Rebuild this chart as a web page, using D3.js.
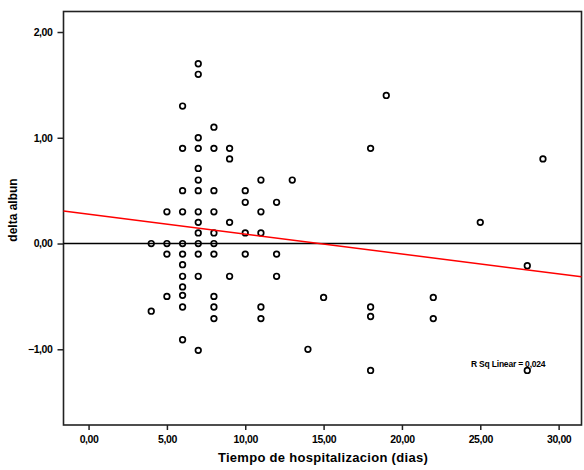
<!DOCTYPE html>
<html>
<head>
<meta charset="utf-8">
<script src="https://cdn.jsdelivr.net/npm/d3@7"></script>
<style>
  html, body { margin: 0; padding: 0; background: #fff; }
  svg { display: block; }
  text { font-family: "Liberation Sans", Arial, sans-serif; font-weight: bold; fill: #000; }
</style>
</head>
<body>
<svg id="chart" width="584" height="470"></svg>
<script>
// Data
const days = [
  4, 4,
  5, 5, 5, 5,
  6, 6, 6, 6, 6, 6, 6, 6, 6, 6, 6, 6,
  7, 7, 7, 7, 7, 7, 7, 7, 7, 7, 7, 7, 7, 7,
  8, 8, 8, 8, 8, 8, 8, 8, 8, 8,
  9, 9, 9, 9,
  10, 10, 10, 10,
  11, 11, 11, 11, 11,
  12, 12, 12,
  13, 14, 15,
  18, 18, 18, 18,
  19,
  22, 22,
  25,
  28, 28,
  29
];
const deltaAlbumin = [
  0.00, -0.64,
  0.30, 0.00, -0.10, -0.50,
  1.30, 0.90, 0.50, 0.30, 0.00, -0.10, -0.20, -0.31, -0.41, -0.49, -0.60, -0.91,
  1.70, 1.60, 1.00, 0.90, 0.71, 0.60, 0.50, 0.30, 0.20, 0.10, 0.00, -0.10, -0.31, -1.01,
  1.10, 0.90, 0.50, 0.30, 0.10, 0.00, -0.10, -0.50, -0.60, -0.71,
  0.90, 0.80, 0.20, -0.31,
  0.50, 0.39, 0.10, -0.10,
  0.60, 0.30, 0.10, -0.60, -0.71,
  0.39, -0.10, -0.31,
  0.60, -1.00, -0.51,
  0.90, -0.60, -0.69, -1.20,
  1.40,
  -0.51, -0.71,
  0.20,
  -0.21, -1.20,
  0.80
];
const xTicks = [0, 5, 10, 15, 20, 25, 30];
const yTicks = [-1, 0, 1, 2];
// Fit line: [intercept, slope]
const fitLine = [0.277, -0.0188];
const rSquared = 0.024;

const fmt = v => d3.format(".2f")(v).replace(".", ",");

const svg = d3.select("#chart");
const pLeft = 63.5, pRight = 581.5, pTop = 11.5, pBottom = 425;

const x = d3.scaleLinear().domain([-1.6, 31.46]).range([pLeft, pRight]);
const y = d3.scaleLinear().domain([-1.716, 2.194]).range([pBottom, pTop]);

// Frame
svg.append("rect")
  .attr("x", pLeft).attr("y", pTop)
  .attr("width", pRight - pLeft).attr("height", pBottom - pTop)
  .attr("fill", "none").attr("stroke", "#222").attr("stroke-width", 1.6);

// X axis
const xAxis = svg.append("g").attr("transform", `translate(0,${pBottom})`)
  .call(d3.axisBottom(x).tickValues(xTicks).tickFormat(fmt).tickSize(5).tickPadding(6));
xAxis.select(".domain").remove();
xAxis.selectAll(".tick line").attr("stroke", "#222").attr("stroke-width", 1.5);
xAxis.selectAll(".tick text").attr("font-size", "10.5px").attr("font-family", "Liberation Sans, Arial, sans-serif").attr("font-weight", "bold").attr("letter-spacing", "-0.4px").attr("fill", "#000");

// Y axis
const yAxis = svg.append("g").attr("transform", `translate(${pLeft},0)`)
  .call(d3.axisLeft(y).tickValues(yTicks).tickFormat(fmt).tickSize(6).tickPadding(5));
yAxis.select(".domain").remove();
yAxis.selectAll(".tick line").attr("stroke", "#222").attr("stroke-width", 1.5);
yAxis.selectAll(".tick text").attr("font-size", "10.5px").attr("font-family", "Liberation Sans, Arial, sans-serif").attr("font-weight", "bold").attr("letter-spacing", "-0.4px").attr("fill", "#000");

// Axis titles
svg.append("text")
  .attr("x", 323).attr("y", 462)
  .attr("text-anchor", "middle")
  .attr("font-size", "13px")
  .attr("letter-spacing", "0.3px")
  .text("Tiempo de hospitalizacion (dias)");

svg.append("text")
  .attr("transform", "translate(17,210) rotate(-90)")
  .attr("text-anchor", "middle")
  .attr("font-size", "12px")
  .text("delta albun");

// Points
const pts = days.map((d, i) => ({ x: d, y: deltaAlbumin[i] }));
svg.append("g").selectAll("circle")
  .data(pts).join("circle")
  .attr("cx", d => x(d.x)).attr("cy", d => y(d.y))
  .attr("r", 2.8)
  .attr("fill", "none").attr("stroke", "#000").attr("stroke-width", 1.7);

// Zero reference line
svg.append("line")
  .attr("x1", pLeft).attr("x2", pRight)
  .attr("y1", y(0)).attr("y2", y(0))
  .attr("stroke", "#000").attr("stroke-width", 1.5);

// Fit line
const xd = x.domain();
svg.append("line")
  .attr("x1", x(xd[0])).attr("y1", y(fitLine[0] + fitLine[1] * xd[0]))
  .attr("x2", x(xd[1])).attr("y2", y(fitLine[0] + fitLine[1] * xd[1]))
  .attr("stroke", "#ff0000").attr("stroke-width", 1.5);

// R squared label
svg.append("text")
  .attr("x", 471).attr("y", 367)
  .attr("font-size", "8.5px")
  .attr("letter-spacing", "-0.2px")
  .text("R Sq Linear = " + d3.format(".3f")(rSquared).replace(".", ","));
</script>
</body>
</html>
